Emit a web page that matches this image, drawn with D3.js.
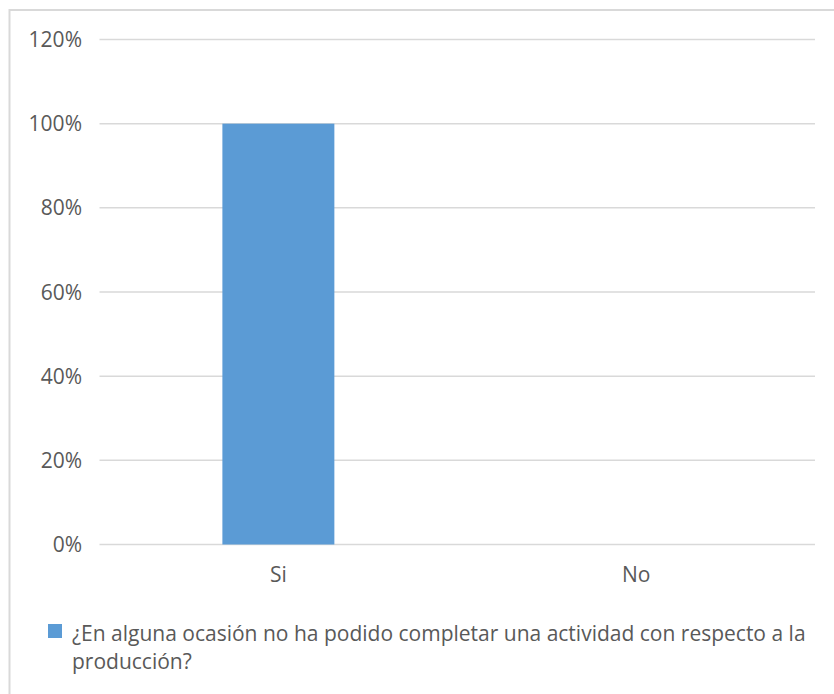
<!DOCTYPE html>
<html>
<head>
<meta charset="utf-8">
<script src="https://cdn.jsdelivr.net/npm/d3@7"></script>
<style>
  body { margin: 0; background: #fff; }
  svg { display: block; font-family: "Open Sans", sans-serif; }
</style>
</head>
<body>
<div class="container"></div>
<script>
var w = 834;
var h = 694;

var categories = ["Si", "No"];
var values = [1.0, 0.0];
var yTicks = [0, 0.2, 0.4, 0.6, 0.8, 1.0, 1.2];
var seriesName = "¿En alguna ocasión no ha podido completar una actividad con respecto a la";
var seriesName2 = "producción?";

var textColor = "#595959";
var gridColor = "#d9d9d9";
var barColor = "#5b9bd5";
var fontFam = "'Open Sans', sans-serif";

var canvas = d3.select(".container").append("svg")
  .attr("width", w)
  .attr("height", h);

// outer frame (left + top visible, rest cropped)
canvas.append("rect")
  .attr("x", 9.5).attr("y", 10)
  .attr("width", w + 20).attr("height", h + 20)
  .attr("fill", "none")
  .attr("stroke", gridColor)
  .attr("stroke-width", 2);

var xScale = d3.scaleBand().domain(categories).range([99.5, 815])
  .paddingInner(0.687).paddingOuter(0.3435);
var yScale = d3.scaleLinear().domain([0, 1.2]).range([544.5, 39.5]);

// gridlines
canvas.append("g").selectAll("line").data(yTicks).enter().append("line")
  .attr("x1", 99.5).attr("x2", 815)
  .attr("y1", (d) => yScale(d)).attr("y2", (d) => yScale(d))
  .attr("stroke", gridColor)
  .attr("stroke-width", 1.5);

// y axis labels
var yAxis = canvas.append("g")
  .attr("transform", "translate(82, 0)")
  .call(d3.axisLeft(yScale).tickValues(yTicks).tickFormat(d3.format(".0%")).tickSize(0).tickPadding(0));
yAxis.select(".domain").remove();
yAxis.selectAll("text")
  .attr("fill", textColor)
  .attr("font-size", "21px")
  .attr("font-family", fontFam)
  .attr("dy", "0.34em");

// bars
canvas.append("g").selectAll("rect").data(values).enter().append("rect")
  .attr("x", (d, i) => xScale(categories[i]))
  .attr("width", xScale.bandwidth())
  .attr("y", (d) => yScale(d))
  .attr("height", (d) => yScale(0) - yScale(d))
  .attr("fill", barColor);

// x axis labels
var xAxis = canvas.append("g")
  .attr("transform", "translate(0, 544.5)")
  .call(d3.axisBottom(xScale).tickSize(0).tickPadding(0));
xAxis.select(".domain").remove();
xAxis.selectAll("text")
  .attr("fill", textColor)
  .attr("font-size", "21px")
  .attr("font-family", fontFam)
  .attr("dy", "37.5px");

// legend
var legend = canvas.append("g");
legend.append("rect")
  .attr("x", 48).attr("y", 624)
  .attr("width", 14).attr("height", 14)
  .attr("fill", barColor);
legend.append("text")
  .attr("x", 72).attr("y", 641)
  .attr("fill", textColor)
  .attr("font-size", "21px")
  .text(seriesName);
legend.append("text")
  .attr("x", 72).attr("y", 669)
  .attr("fill", textColor)
  .attr("font-size", "21px")
  .text(seriesName2);
</script>
</body>
</html>
